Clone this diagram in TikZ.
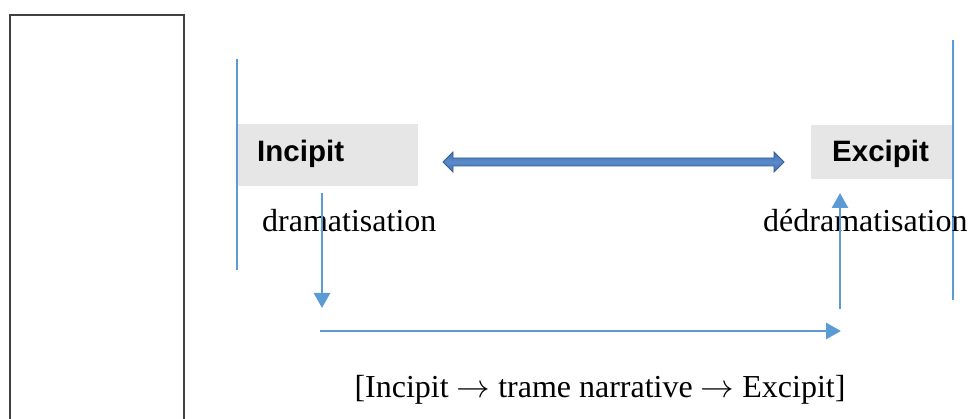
\documentclass[tikz,border=0pt]{standalone}
\usepackage{graphicx}
\usepackage{fontspec}
\setmainfont{Liberation Serif}
\newfontfamily\arialfont{Liberation Sans}
\usetikzlibrary{arrows.meta,calc}
\definecolor{lblue}{HTML}{5B9BD5}
\definecolor{dblue}{HTML}{365F91}
\definecolor{mblue}{HTML}{5A8ACB}
\definecolor{fblue}{HTML}{4272AE}
\definecolor{boxgray}{HTML}{E6E6E6}
\definecolor{frame}{HTML}{404040}
\newcommand{\txtarrow}{\scalebox{1.35}[1.3]{\(\rightarrow\)}}
\tikzset{
  labelbox/.style={fill=boxgray, inner sep=0pt, anchor=north west},
  boldlabel/.style={font=\arialfont\bfseries\fontsize{29.5}{30}\selectfont, anchor=base west, inner sep=0pt},
  serif/.style={font=\fontsize{32}{34}\selectfont, anchor=base west, inner sep=0pt},
  thinline/.style={draw=lblue, line width=1.2pt},
  flow/.style={draw=lblue, line width=2.8pt, -{Triangle[length=15pt,width=16pt]}},
  fatarrow/.style={draw=dblue, line width=0.9pt, top color=fblue, bottom color=fblue, middle color=mblue}
}
\begin{document}
\begin{tikzpicture}[x=1pt,y=-1pt]
\useasboundingbox (0,0) rectangle (969,419);
% left frame
\draw[frame, line width=1.3pt] (10,425) -- (10,15) -- (184,15) -- (184,425);
% boxes
\node[labelbox, minimum width=181pt, minimum height=62pt] (incbox) at (237,124) {};
\node[labelbox, minimum width=143pt, minimum height=54pt] (excbox) at (811,125) {};
\node[boldlabel] (inc) at (257,162) {Incipit};
\node[boldlabel] (exc) at (832,162) {Excipit};
% side lines
\coordinate (l1) at (237,59);
\coordinate (l2) at (237,270);
\coordinate (r1) at (953,40);
\coordinate (r2) at (953,300);
\draw[thinline] (l1) -- (l2);
\draw[thinline] (r1) -- (r2);
% labels
\node[serif] (dram) at (262,232) {dramatisation};
\node[serif] (dedram) at (763,232) {dédramatisation};
\node[font=\fontsize{32}{34}\selectfont, anchor=base, inner sep=0pt] (trame) at (600,397) {[Incipit \txtarrow{} trame narrative \txtarrow{} Excipit]};
% double arrow
\coordinate (dl) at (443,162);
\coordinate (dr) at (784,162);
\path[fatarrow] (dl) -- ($(dl)+(10,-10)$) -- ($(dl)+(10,-4)$) -- ($(dr)+(-10,-4)$) -- ($(dr)+(-10,-10)$) -- (dr)
  -- ($(dr)+(-10,10)$) -- ($(dr)+(-10,4)$) -- ($(dl)+(10,4)$) -- ($(dl)+(10,10)$) -- cycle;
% flow arrows
\coordinate (d1) at (322,193);
\coordinate (d2) at (322,308);
\coordinate (h1) at (320,331);
\coordinate (h2) at (841,331);
\coordinate (u1) at (840,309);
\coordinate (u2) at (840,193);
\draw[flow] (d1) -- (d2);
\draw[flow] (h1) -- (h2);
\draw[flow] (u1) -- (u2);
\end{tikzpicture}
\end{document}
